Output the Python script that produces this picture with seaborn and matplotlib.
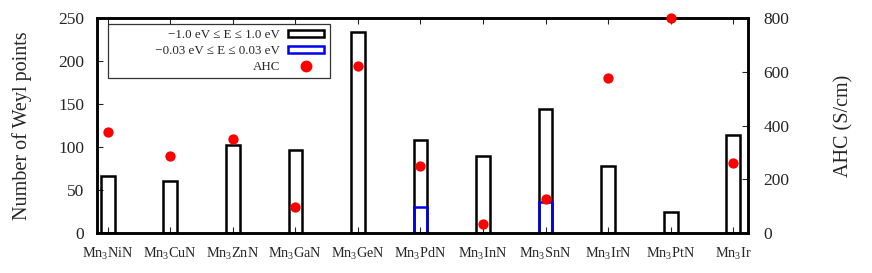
import numpy as np
import pandas as pd
import matplotlib
matplotlib.use("Agg")
import matplotlib.pyplot as plt
import seaborn as sns
from matplotlib.patches import Patch
from matplotlib.lines import Line2D

materials = ["Mn$_3$NiN", "Mn$_3$CuN", "Mn$_3$ZnN", "Mn$_3$GaN", "Mn$_3$GeN", "Mn$_3$PdN",
             "Mn$_3$InN", "Mn$_3$SnN", "Mn$_3$IrN", "Mn$_3$PtN", "Mn$_3$Ir"]
weyl_wide = [66, 60, 102, 96, 234, 108, 90, 144, 78, 24, 114]
weyl_narrow = [0, 0, 0, 0, 0, 30, 0, 36, 0, 0, 0]
ahc = [375, 285, 350, 95, 620, 250, 35, 128, 575, 800, 260]

df = pd.DataFrame({"material": materials, "wide": weyl_wide,
                   "narrow": [v if v > 0 else np.nan for v in weyl_narrow], "ahc": ahc})

sns.set_style("ticks")
plt.rcParams["font.family"] = ["Liberation Serif", "DejaVu Serif"]
plt.rcParams["mathtext.fontset"] = "custom"
plt.rcParams["mathtext.rm"] = "Liberation Serif"
plt.rcParams["mathtext.it"] = "Liberation Serif:italic"

fig = plt.figure(figsize=(8.72, 2.73), dpi=100)
ax = fig.add_axes([0.111, 0.1465, 0.747, 0.7875])

sns.barplot(data=df, x="material", y="wide", width=0.22, fill=False, color="black",
            linewidth=1.8, ax=ax)
sns.barplot(data=df, x="material", y="narrow", width=0.22, fill=False, color="#0000ee",
            linewidth=1.8, ax=ax)

ax.set_xlim(-0.176, 10.24)
ax.set_ylim(0, 250)
ax.set_yticks([0, 50, 100, 150, 200, 250])
ax.set_xlabel("")
ax.set_ylabel("Number of Weyl points", fontsize=14.5, labelpad=19)
ax.tick_params(axis="y", direction="in", labelsize=12.5, length=4, width=0.8, pad=9)
ax.tick_params(axis="x", direction="in", labelsize=10.3, length=4, width=0.8, top=True,
               pad=18)
for lab in ax.get_xticklabels():
    lab.set_va("baseline")

ax2 = ax.twinx()
sns.scatterplot(data=df, x="material", y="ahc", color="red", s=55, linewidth=0,
                ax=ax2, clip_on=False, zorder=5)
ax2.set_ylim(0, 800)
ax2.set_yticks([0, 200, 400, 600, 800])
ax2.set_ylabel("AHC (S/cm)", fontsize=14.5, labelpad=32)
ax2.tick_params(axis="y", direction="in", labelsize=12.5, length=4, width=0.8, pad=11)
ax.set_xlim(-0.176, 10.24)

for a in (ax, ax2):
    for sp in a.spines.values():
        sp.set_visible(True)
        sp.set_linewidth(1.8)
        sp.set_color("black")

handles = [Patch(facecolor="white", edgecolor="black", linewidth=1.8),
           Patch(facecolor="white", edgecolor="#0000ee", linewidth=1.8),
           Line2D([], [], marker="o", color="red", linestyle="none", markersize=7.5)]
labels = ["\u22121.0 eV \u2264 E \u2264 1.0 eV",
          "             \u22120.03 eV \u2264 E \u2264 0.03 eV", "AHC"]
leg = ax2.legend(handles, labels, loc="upper left", bbox_to_anchor=(0.017, 0.972),
                 markerfirst=False, fontsize=9.4, frameon=True, fancybox=False,
                 handlelength=2.8, handleheight=0.5, borderaxespad=0, borderpad=0.4,
                 labelspacing=0.3, handletextpad=0.6)
leg.get_frame().set_edgecolor("black")
leg.get_frame().set_linewidth(0.9)

fig.savefig("out.png", dpi=100)
